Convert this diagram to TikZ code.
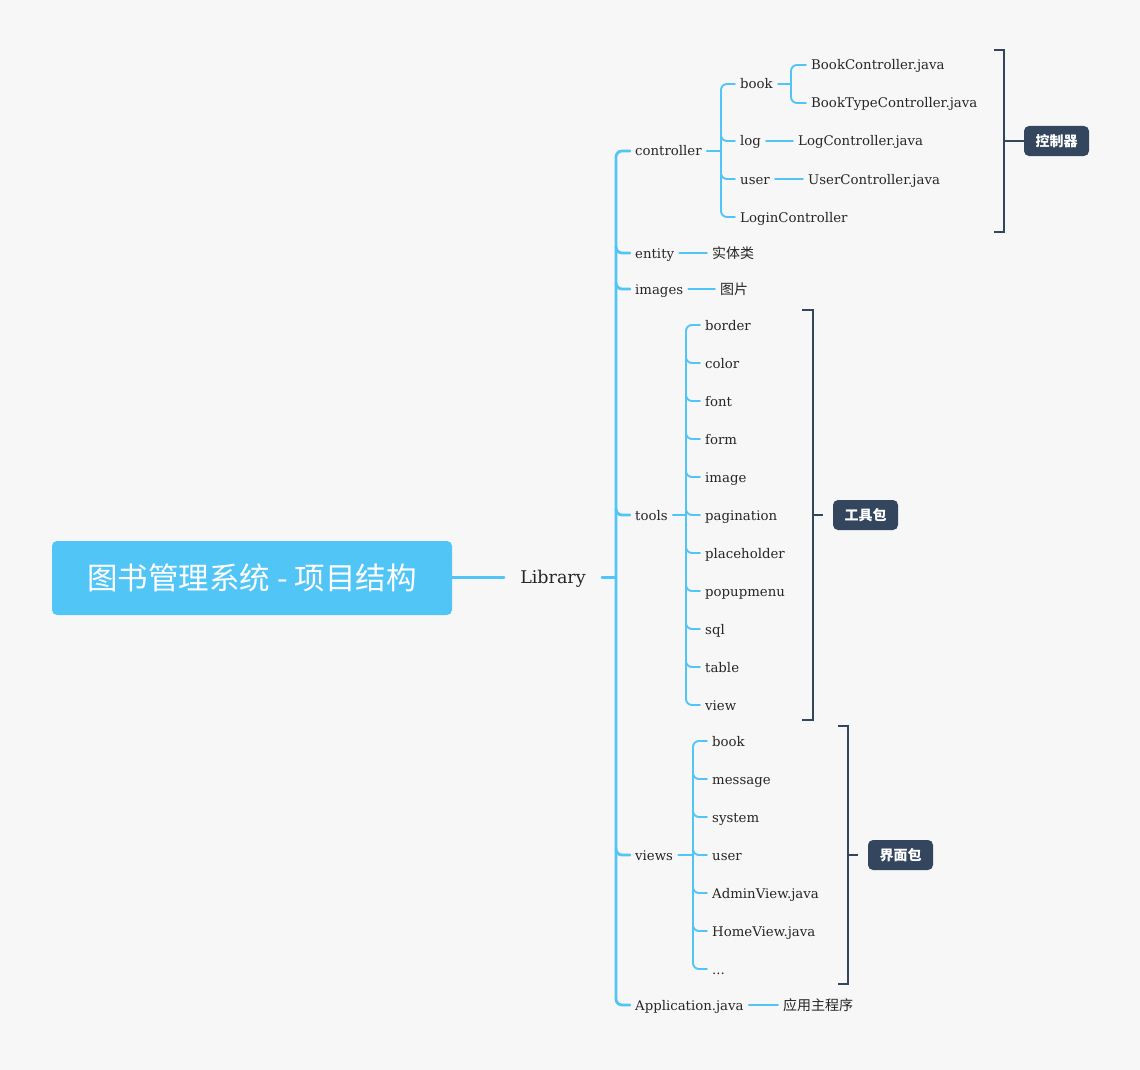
\documentclass[tikz,border=0pt]{standalone}
\usepackage{fontspec}
\usetikzlibrary{calc}
\setmainfont{DejaVu Serif}
\newfontfamily\cjk{Noto Sans CJK SC}
\definecolor{bg}{HTML}{F7F7F7}
\definecolor{mmblue}{HTML}{52C5F7}
\definecolor{mmdark}{HTML}{34465E}
\definecolor{mmtext}{HTML}{262626}

\tikzset{
  lbl/.style={anchor=west, inner xsep=5pt, inner ysep=2pt, text height=11.5pt, text depth=1.5pt,
              font=\fontsize{13.3pt}{15pt}\selectfont, text=mmtext},
  cjklbl/.style={lbl, font=\cjk\fontsize{14pt}{16pt}\selectfont},
  br/.style={draw=mmblue, line width=1.9pt, line cap=round},
  trunk/.style={br, line width=2.8pt},
  brk/.style={draw=mmdark, line width=1.8pt},
  tag/.style={fill=mmdark, rounded corners=5pt, text=white, minimum width=65pt, minimum height=30pt,
              inner sep=0pt, font=\cjk\bfseries\fontsize{14pt}{16pt}\selectfont},
}

% branch stub that leaves a vertical line (given by a coordinate) and bends right into a child
\newcommand\mmstub[3][br]{\draw[#1] ($(#3.west -| #2)+(0,-6)$) to[out=-90,in=180] ($(#3.west -| #2)+(6,0)$) -- (#3.west);}
% vertical spine from the first to the last child, with rounded ends
\newcommand\mmspine[4][br]{\draw[#1, rounded corners=6pt] (#3.west) -- (#3.west -| #2) -- (#4.west -| #2) -- (#4.west);}

\begin{document}
\begin{tikzpicture}[x=1pt,y=-1pt]
\path[fill=bg] (0,0) rectangle (1140,1070);

% root and first level
\node[fill=mmblue, rounded corners=5pt, minimum width=400pt, minimum height=74pt, text=white,
      font=\cjk\fontsize{30.5pt}{33pt}\selectfont] (root) at (252,578) {图书管理系统 - 项目结构};
\node[font=\fontsize{17.5pt}{20pt}\selectfont, inner xsep=16pt, text height=14pt, text depth=2pt,
      text=mmtext] (lib) at (553,577.5) {Library};
\draw[br, line width=2.6pt] (root.east |- lib.west) -- (lib.west);
\coordinate (vT) at (616,0);

\node[lbl] (ctrl) at (630,151) {controller};
\node[lbl] (ent) at (630,253) {entity};
\node[lbl] (img) at (630,289) {images};
\node[lbl] (tools) at (630,515) {tools};
\node[lbl] (views) at (630,855) {views};
\node[lbl] (app) at (630,1005) {Application.java};

\draw[trunk] (lib.east) -- (lib.east -| vT);
\mmspine[trunk]{vT}{ctrl}{app}
\mmstub[trunk]{vT}{ent}
\mmstub[trunk]{vT}{img}
\mmstub[trunk]{vT}{tools}
\mmstub[trunk]{vT}{views}

% controller
\coordinate (vC) at (721,0);
\node[lbl] (cbook) at (735,84) {book};
\node[lbl] (clog) at (735,141) {log};
\node[lbl] (cuser) at (735,179) {user};
\node[lbl] (clogin) at (735,217) {LoginController};
\draw[br] (ctrl.east) -- (ctrl.east -| vC);
\mmspine{vC}{cbook}{clogin}
\mmstub{vC}{clog}
\mmstub{vC}{cuser}

\coordinate (vB) at (791,0);
\node[lbl] (bkc) at (806,65) {BookController.java};
\node[lbl] (btc) at (806,103) {BookTypeController.java};
\draw[br] (cbook.east) -- (cbook.east -| vB);
\mmspine{vB}{bkc}{btc}

\node[lbl] (logc) at (793,141) {LogController.java};
\draw[br] (clog.east) -- (logc.west);
\node[lbl] (userc) at (803,179) {UserController.java};
\draw[br] (cuser.east) -- (userc.west);

\node[tag] (tagc) at (1056.5,141) {控制器};
\draw[brk] (994,50) -- (1004,50) -- (1004,232) -- (994,232);
\draw[brk] (1004,141) -- (tagc.west);

% entity, images
\node[cjklbl] (entz) at (707,253) {实体类};
\draw[br] (ent.east) -- (entz.west);
\node[cjklbl] (imgz) at (715,289) {图片};
\draw[br] (img.east) -- (imgz.west);

% tools
\coordinate (vTo) at (686,0);
\foreach \n/\y/\t in {t1/325/border, t2/363/color, t3/401/font, t4/439/form, t5/477/image,
                      t6/515/pagination, t7/553/placeholder, t8/591/popupmenu, t9/629/sql,
                      t10/667/table, t11/705/view}
  {\node[lbl] (\n) at (700,\y) {\t};}
\draw[br] (tools.east) -- (tools.east -| vTo);
\mmspine{vTo}{t1}{t11}
\foreach \n in {t2,t3,t4,t5,t6,t7,t8,t9,t10} {\mmstub{vTo}{\n}}

\node[tag] (tagt) at (865.5,515) {工具包};
\draw[brk] (802,310) -- (813,310) -- (813,720) -- (802,720);
\draw[brk] (813,515) -- (823,515);

% views
\coordinate (vV) at (693,0);
\foreach \n/\y/\t in {v1/741/book, v2/779/message, v3/817/system, v4/855/user,
                      v5/893/AdminView.java, v6/931/HomeView.java}
  {\node[lbl] (\n) at (707,\y) {\t};}
\node[lbl] (v7) at (707,969) {...};
\draw[br] (views.east) -- (views.east -| vV);
\mmspine{vV}{v1}{v7}
\foreach \n in {v2,v3,v4,v5,v6} {\mmstub{vV}{\n}}

\node[tag] (tagv) at (900.5,855) {界面包};
\draw[brk] (838,726) -- (848,726) -- (848,984) -- (838,984);
\draw[brk] (848,855) -- (858,855);

% application
\node[cjklbl] (appz) at (778,1005) {应用主程序};
\draw[br] (app.east) -- (appz.west);
\end{tikzpicture}
\end{document}
